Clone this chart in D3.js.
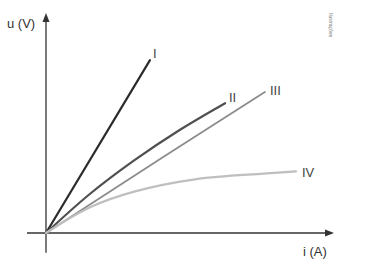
<!DOCTYPE html>
<html><head><meta charset="utf-8">
<script src="https://cdn.jsdelivr.net/npm/d3@7"></script>
<style>html,body{margin:0;padding:0;background:#fff;}svg{display:block;font-family:"Liberation Sans",Arial,sans-serif;}</style>
</head><body>
<script>
// data (arbitrary units)
const seriesNames = ["I", "II", "III", "IV"];
const curveI   = [[0,0],[3.61,7.86]];
const curveII  = [[0,0],[1.5,1.75],[3.06,3.30],[4.6,4.65],[6.22,5.90]];
const curveIII = [[0,0],[4.07,3.45],[7.60,6.41]];
const curveIV  = [[0,0],[1.53,1.17],[3.06,1.88],[5.23,2.45],[7.55,2.70],[8.68,2.80]];
const axisLabels = ["u (V)", "i (A)"];

const W = 368, H = 272;
const svg = d3.select("body").append("svg").attr("width", W).attr("height", H);
const x = d3.scaleLinear().domain([0, 10]).range([46, 334]);
const y = d3.scaleLinear().domain([0, 10]).range([233, 13]);

const styles = [
  {color:"#2b2b2b", w:2.2, label:[153,58]},
  {color:"#505050", w:2.2, label:[229,102]},
  {color:"#8c8c8c", w:1.8, label:[270,95]},
  {color:"#bfbfbf", w:2.2, label:[302,177]}
];
const series = [curveI, curveII, curveIII, curveIV];

// axes
const axColor = "#333";
svg.append("line").attr("x1", x(-0.66)).attr("x2", x(10) - 6).attr("y1", y(0)).attr("y2", y(0))
  .attr("stroke", axColor).attr("stroke-width", 1.3);
svg.append("line").attr("x1", x(0)).attr("x2", x(0)).attr("y1", y(-0.9)).attr("y2", y(10) + 6)
  .attr("stroke", axColor).attr("stroke-width", 1.3);
// arrow heads
svg.append("path").attr("d", `M${x(10)},${y(0)} L${x(10)-9},${y(0)-3.5} L${x(10)-9},${y(0)+3.5} Z`).attr("fill", axColor);
svg.append("path").attr("d", `M${x(0)},${y(10)} L${x(0)-3.5},${y(10)+9} L${x(0)+3.5},${y(10)+9} Z`).attr("fill", axColor);

const line = d3.line().x(d => x(d[0])).y(d => y(d[1])).curve(d3.curveCatmullRom.alpha(0.5));
series.forEach((s, i) => {
  svg.append("path").attr("d", line(s)).attr("fill", "none")
    .attr("stroke", styles[i].color).attr("stroke-width", styles[i].w).attr("stroke-linecap", "round");
  svg.append("text").attr("x", styles[i].label[0]).attr("y", styles[i].label[1])
    .attr("font-size", 13).attr("fill", "#444").text(seriesNames[i]);
});

svg.append("text").attr("x", 7).attr("y", 28).attr("font-size", 13).attr("fill", "#333").text(axisLabels[0]);
svg.append("text").attr("x", 303).attr("y", 256).attr("font-size", 13).attr("fill", "#333").text(axisLabels[1]);

// small vertical credit text
svg.append("text").attr("transform", "translate(329,13) rotate(90)")
  .attr("font-size", 5).attr("fill", "#777").text("Ilustrações");
</script>
</body></html>
